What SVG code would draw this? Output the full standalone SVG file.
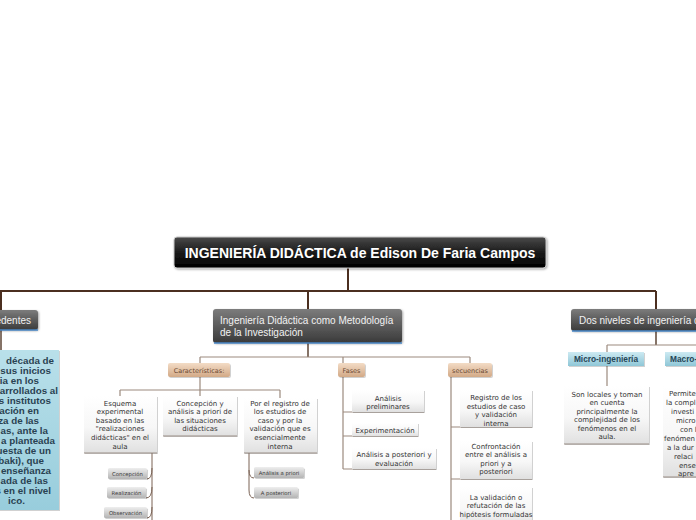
<svg xmlns="http://www.w3.org/2000/svg" width="696" height="520" viewBox="0 0 696 520">
<defs>
<linearGradient id="gTitle" x1="0" y1="0" x2="0" y2="1"><stop offset="0" stop-color="#4a4a4a"/><stop offset="0.5" stop-color="#1a1a1a"/><stop offset="1" stop-color="#000"/></linearGradient>
<linearGradient id="gDark" x1="0" y1="0" x2="0" y2="1"><stop offset="0" stop-color="#7c7c7c"/><stop offset="1" stop-color="#3a3a3a"/></linearGradient>
<linearGradient id="gTan" x1="0" y1="0" x2="0" y2="1"><stop offset="0" stop-color="#f3dcc6"/><stop offset="1" stop-color="#d2a986"/></linearGradient>
<linearGradient id="gBlue" x1="0" y1="0" x2="0" y2="1"><stop offset="0" stop-color="#cdeaf2"/><stop offset="1" stop-color="#8fc7d7"/></linearGradient>
<linearGradient id="gBlueBig" x1="0" y1="0" x2="0" y2="1"><stop offset="0" stop-color="#b9e0ea"/><stop offset="1" stop-color="#98cddc"/></linearGradient>
<linearGradient id="gWhite" x1="0" y1="0" x2="0" y2="1"><stop offset="0" stop-color="#ffffff"/><stop offset="0.55" stop-color="#f7f7f7"/><stop offset="1" stop-color="#e0e0e0"/></linearGradient>
<linearGradient id="gGray" x1="0" y1="0" x2="0" y2="1"><stop offset="0" stop-color="#eeeeee"/><stop offset="1" stop-color="#b4b4b4"/></linearGradient>
<filter id="sh" x="-10%" y="-10%" width="130%" height="140%"><feDropShadow dx="1" dy="1" stdDeviation="0.8" flood-color="#000" flood-opacity="0.35"/></filter>
<filter id="shl" x="-10%" y="-10%" width="130%" height="140%"><feDropShadow dx="1" dy="1" stdDeviation="0.6" flood-color="#000" flood-opacity="0.18"/></filter>
</defs>
<style>
.l1{fill:none;stroke:#4b2f20;stroke-width:2}
.l2{fill:none;stroke:#5e4536;stroke-width:1.5}
.l3{fill:none;stroke:#9c8a7e;stroke-width:1.2}
.l4{fill:none;stroke:#7a6254;stroke-width:1}
.bb{fill:none;stroke:#9a8e86;stroke-width:1.2}
.title{font-family:"Liberation Sans",Arial,sans-serif;font-weight:bold;font-size:14px;fill:#fff}
.dk{font-family:"Liberation Sans",Arial,sans-serif;font-size:10px;fill:#f2f2f2}
.tan{font-family:"DejaVu Sans",Verdana,sans-serif;font-size:6.5px;fill:#6b4a33}
.tx{font-family:"DejaVu Sans",Verdana,sans-serif;font-size:7px;fill:#333}
.sm{font-family:"DejaVu Sans",Verdana,sans-serif;font-size:5.3px;fill:#3a3a3a}
.bl{font-family:"Liberation Sans",Arial,sans-serif;font-size:8.3px;font-weight:bold;fill:#254556}
.blt{font-family:"Liberation Sans",Arial,sans-serif;font-size:9.8px;font-weight:bold;fill:#2a4252}
.c{text-anchor:middle}
.e{text-anchor:end}
</style>
<rect width="696" height="520" fill="#fff"/>

<g id="connectors">
<path class="l1" d="M348 268V291M0 291H656M1 291V310M308 291V309M656 291V309"/>
<path class="l2" d="M1 330V350M308 343V357M656 331V345"/>
<path class="l3" d="M200 357H470M200 357V363M343 357V363M470 357V363"/>
<path class="l3" d="M200 377V396M120 390H280M120 390V396M280 390V398"/>
<path class="l4" d="M152 453V520M152 468Q152 479 147 479M152 487Q152 498 146 498M152 507Q152 518 147 518"/>
<path class="l4" d="M249 453V470Q249 478 254 478M249 470V490Q249 498 254 498"/>
<path class="l3" d="M343 377V469M343 412H424M343 436H418M343 469H436"/>
<path class="l3" d="M451 377V520M451 427H532M451 479H532"/>
<path class="l3" d="M607 345H696M607 345V352M607 366V386"/>
</g>

<g id="node-title">
<rect x="174" y="237" width="372" height="31" rx="3" fill="url(#gTitle)" stroke="#c8c8c8" stroke-width="1" filter="url(#sh)"/>
<text class="title c" x="360" y="257.5">INGENIERÍA DIDÁCTICA de Edison De Faria Campos</text>
</g>

<g id="node-antecedentes">
<rect x="-6" y="310" width="44" height="20" rx="3" fill="url(#gDark)" filter="url(#sh)"/>
<path d="M0 330H38" stroke="#4a88c8" stroke-width="1.5"/>
<text class="dk e" x="31" y="323.5">Antecedentes</text>
</g>

<g id="node-antecedentes-texto">
<rect x="-6" y="350" width="65" height="160" fill="url(#gBlueBig)" filter="url(#shl)"/>
<text class="blt e" x="54" y="363.5">década de</text>
<text class="blt e" x="51" y="373.5">e sus inicios</text>
<text class="blt e" x="39" y="383.5">ia en los</text>
<text class="blt e" x="58" y="393.5">arrollados al</text>
<text class="blt e" x="51" y="403.5">os institutos</text>
<text class="blt e" x="39" y="413.5">gación en</text>
<text class="blt e" x="39" y="423.5">za de las</text>
<text class="blt e" x="48" y="433.5">as, ante la</text>
<text class="blt e" x="55" y="443.5">a planteada</text>
<text class="blt e" x="51" y="453.5">uesta de un</text>
<text class="blt e" x="44" y="463.5">rbaki), que</text>
<text class="blt e" x="51" y="473.5">enseñanza</text>
<text class="blt e" x="48" y="483.5">ada de las</text>
<text class="blt e" x="51" y="493.5">s en el nivel</text>
<text class="blt e" x="25" y="503.5">ico.</text>
</g>

<g id="node-metodologia">
<rect x="213" y="309" width="189" height="34" rx="3" fill="url(#gDark)" filter="url(#sh)"/>
<path d="M214 343H402" stroke="#4a88c8" stroke-width="1.5"/>
<text class="dk" x="220" y="324">Ingeniería Didáctica como Metodología</text>
<text class="dk" x="220" y="336">de la Investigación</text>
</g>

<g id="node-niveles">
<rect x="571" y="309" width="140" height="22" rx="3" fill="url(#gDark)" filter="url(#sh)"/>
<path d="M572 331H696" stroke="#4a88c8" stroke-width="1.5"/>
<text class="dk" x="579" y="323.5">Dos niveles de ingeniería didáctica</text>
</g>

<g id="node-caracteristicas">
<rect x="168" y="363" width="62" height="14" rx="2" fill="url(#gTan)" filter="url(#shl)"/>
<text class="tan c" x="199" y="372.5">Características:</text>
</g>
<g id="node-fases">
<rect x="338" y="363" width="27" height="14" rx="2" fill="url(#gTan)" filter="url(#shl)"/>
<text class="tan c" x="351.5" y="372.5">Fases</text>
</g>
<g id="node-secuencias">
<rect x="448" y="363" width="44" height="14" rx="2" fill="url(#gTan)" filter="url(#shl)"/>
<text class="tan c" x="470" y="372.5">secuencias</text>
</g>

<g id="node-esquema">
<rect x="84" y="396" width="73" height="57" fill="url(#gWhite)" filter="url(#shl)"/>
<path class="bb" d="M84 453H157"/>
<text class="tx c" x="120" y="405.5">Esquema</text>
<text class="tx c" x="120" y="414.1">experimental</text>
<text class="tx c" x="120" y="422.7">basado en las</text>
<text class="tx c" x="120" y="431.3">"realizaciones</text>
<text class="tx c" x="120" y="439.9">didácticas" en el</text>
<text class="tx c" x="120" y="448.5">aula</text>
</g>

<g id="node-concepcion-analisis">
<rect x="163" y="396" width="74" height="40" fill="url(#gWhite)" filter="url(#shl)"/>
<path class="bb" d="M163 436H237"/>
<text class="tx c" x="200" y="405.5">Concepción y</text>
<text class="tx c" x="200" y="414.1">análisis a priori de</text>
<text class="tx c" x="200" y="422.7">las situaciones</text>
<text class="tx c" x="200" y="431.3">didácticas</text>
</g>

<g id="node-por-registro">
<rect x="244" y="398" width="73" height="55" fill="url(#gWhite)" filter="url(#shl)"/>
<path class="bb" d="M244 453H317"/>
<text class="tx c" x="280" y="405.5">Por el registro de</text>
<text class="tx c" x="280" y="414.1">los estudios de</text>
<text class="tx c" x="280" y="422.7">caso y por la</text>
<text class="tx c" x="280" y="431.3">validación que es</text>
<text class="tx c" x="280" y="439.9">esencialmente</text>
<text class="tx c" x="280" y="448.5">interna</text>
</g>

<g id="node-concepcion">
<rect x="108" y="468" width="39" height="11" rx="1.5" fill="url(#gGray)" filter="url(#shl)"/>
<text class="sm c" x="127.5" y="475.5">Concepción</text>
</g>
<g id="node-realizacion">
<rect x="107" y="487" width="39" height="11" rx="1.5" fill="url(#gGray)" filter="url(#shl)"/>
<text class="sm c" x="126.5" y="494.5">Realización</text>
</g>
<g id="node-observacion">
<rect x="104" y="507" width="43" height="11" rx="1.5" fill="url(#gGray)" filter="url(#shl)"/>
<text class="sm c" x="125.5" y="514.5">Observación</text>
</g>
<g id="node-analisis-priori">
<rect x="254" y="467" width="50" height="11" rx="1.5" fill="url(#gGray)" filter="url(#shl)"/>
<text class="sm c" x="279" y="474.5">Análisis a priori</text>
</g>
<g id="node-a-posteriori">
<rect x="254" y="487" width="44" height="11" rx="1.5" fill="url(#gGray)" filter="url(#shl)"/>
<text class="sm c" x="276" y="494.5">A posteriori</text>
</g>

<g id="node-analisis-preliminares">
<rect x="352" y="390" width="72" height="22" fill="url(#gWhite)" filter="url(#shl)"/>
<text class="tx c" x="388" y="400.5">Análisis</text>
<text class="tx c" x="388" y="409">preliminares</text>
</g>
<g id="node-experimentacion">
<rect x="352" y="423" width="66" height="13" fill="url(#gWhite)" filter="url(#shl)"/>
<text class="tx c" x="385" y="432.5">Experimentación</text>
</g>
<g id="node-analisis-posteriori">
<rect x="352" y="448" width="84" height="21" fill="url(#gWhite)" filter="url(#shl)"/>
<text class="tx c" x="394" y="456.5">Análisis a posteriori y</text>
<text class="tx c" x="394" y="465.5">evaluación</text>
</g>

<g id="node-registro">
<rect x="460" y="390" width="72" height="37" fill="url(#gWhite)" filter="url(#shl)"/>
<text class="tx c" x="496" y="400">Registro de los</text>
<text class="tx c" x="496" y="408.5">estudios de caso</text>
<text class="tx c" x="496" y="417">y validación</text>
<text class="tx c" x="496" y="425.5">interna</text>
</g>
<g id="node-confrontacion">
<rect x="460" y="441" width="72" height="38" fill="url(#gWhite)" filter="url(#shl)"/>
<text class="tx c" x="496" y="448.5">Confrontación</text>
<text class="tx c" x="496" y="457">entre el análisis a</text>
<text class="tx c" x="496" y="465.5">priori y a</text>
<text class="tx c" x="496" y="474">posteriori</text>
</g>
<g id="node-validacion">
<rect x="460" y="487" width="72" height="40" fill="url(#gWhite)" filter="url(#shl)"/>
<text class="tx c" x="496" y="499.5">La validación o</text>
<text class="tx c" x="496" y="508">refutación de las</text>
<text class="tx c" x="496" y="516.5">hipótesis formuladas</text>
</g>

<g id="node-micro">
<rect x="568" y="352" width="76" height="14" fill="url(#gBlue)" filter="url(#shl)"/>
<text class="bl c" x="606" y="362.2">Micro-ingeniería</text>
</g>
<g id="node-macro">
<rect x="665" y="352" width="40" height="14" fill="url(#gBlue)" filter="url(#shl)"/>
<text class="bl" x="670" y="362.2">Macro-ingeniería</text>
</g>

<g id="node-son-locales">
<rect x="564" y="386" width="85" height="58" fill="url(#gWhite)" filter="url(#shl)"/>
<path class="bb" d="M564 444H649"/>
<text class="tx c" x="607" y="396.5">Son locales y toman</text>
<text class="tx c" x="607" y="405">en cuenta</text>
<text class="tx c" x="607" y="413.5">principalmente la</text>
<text class="tx c" x="607" y="422">complejidad de los</text>
<text class="tx c" x="607" y="430.5">fenómenos en el</text>
<text class="tx c" x="607" y="439">aula.</text>
</g>

<g id="node-permite">
<rect x="663" y="386" width="40" height="91" fill="url(#gWhite)" filter="url(#shl)"/>
<path class="bb" d="M663 477H696"/>
<text class="tx" x="669" y="395.5">Permite</text>
<text class="tx" x="666" y="404.5">la compl</text>
<text class="tx" x="671" y="413.5">investi</text>
<text class="tx" x="676" y="422.5">micro</text>
<text class="tx" x="680" y="431.5">con l</text>
<text class="tx" x="664" y="440.5">fenómen</text>
<text class="tx" x="667" y="449.5">a la dur</text>
<text class="tx" x="674" y="458.5">relaci</text>
<text class="tx" x="679" y="467.5">ense</text>
<text class="tx" x="678" y="475.5">apre</text>
</g>
</svg>
